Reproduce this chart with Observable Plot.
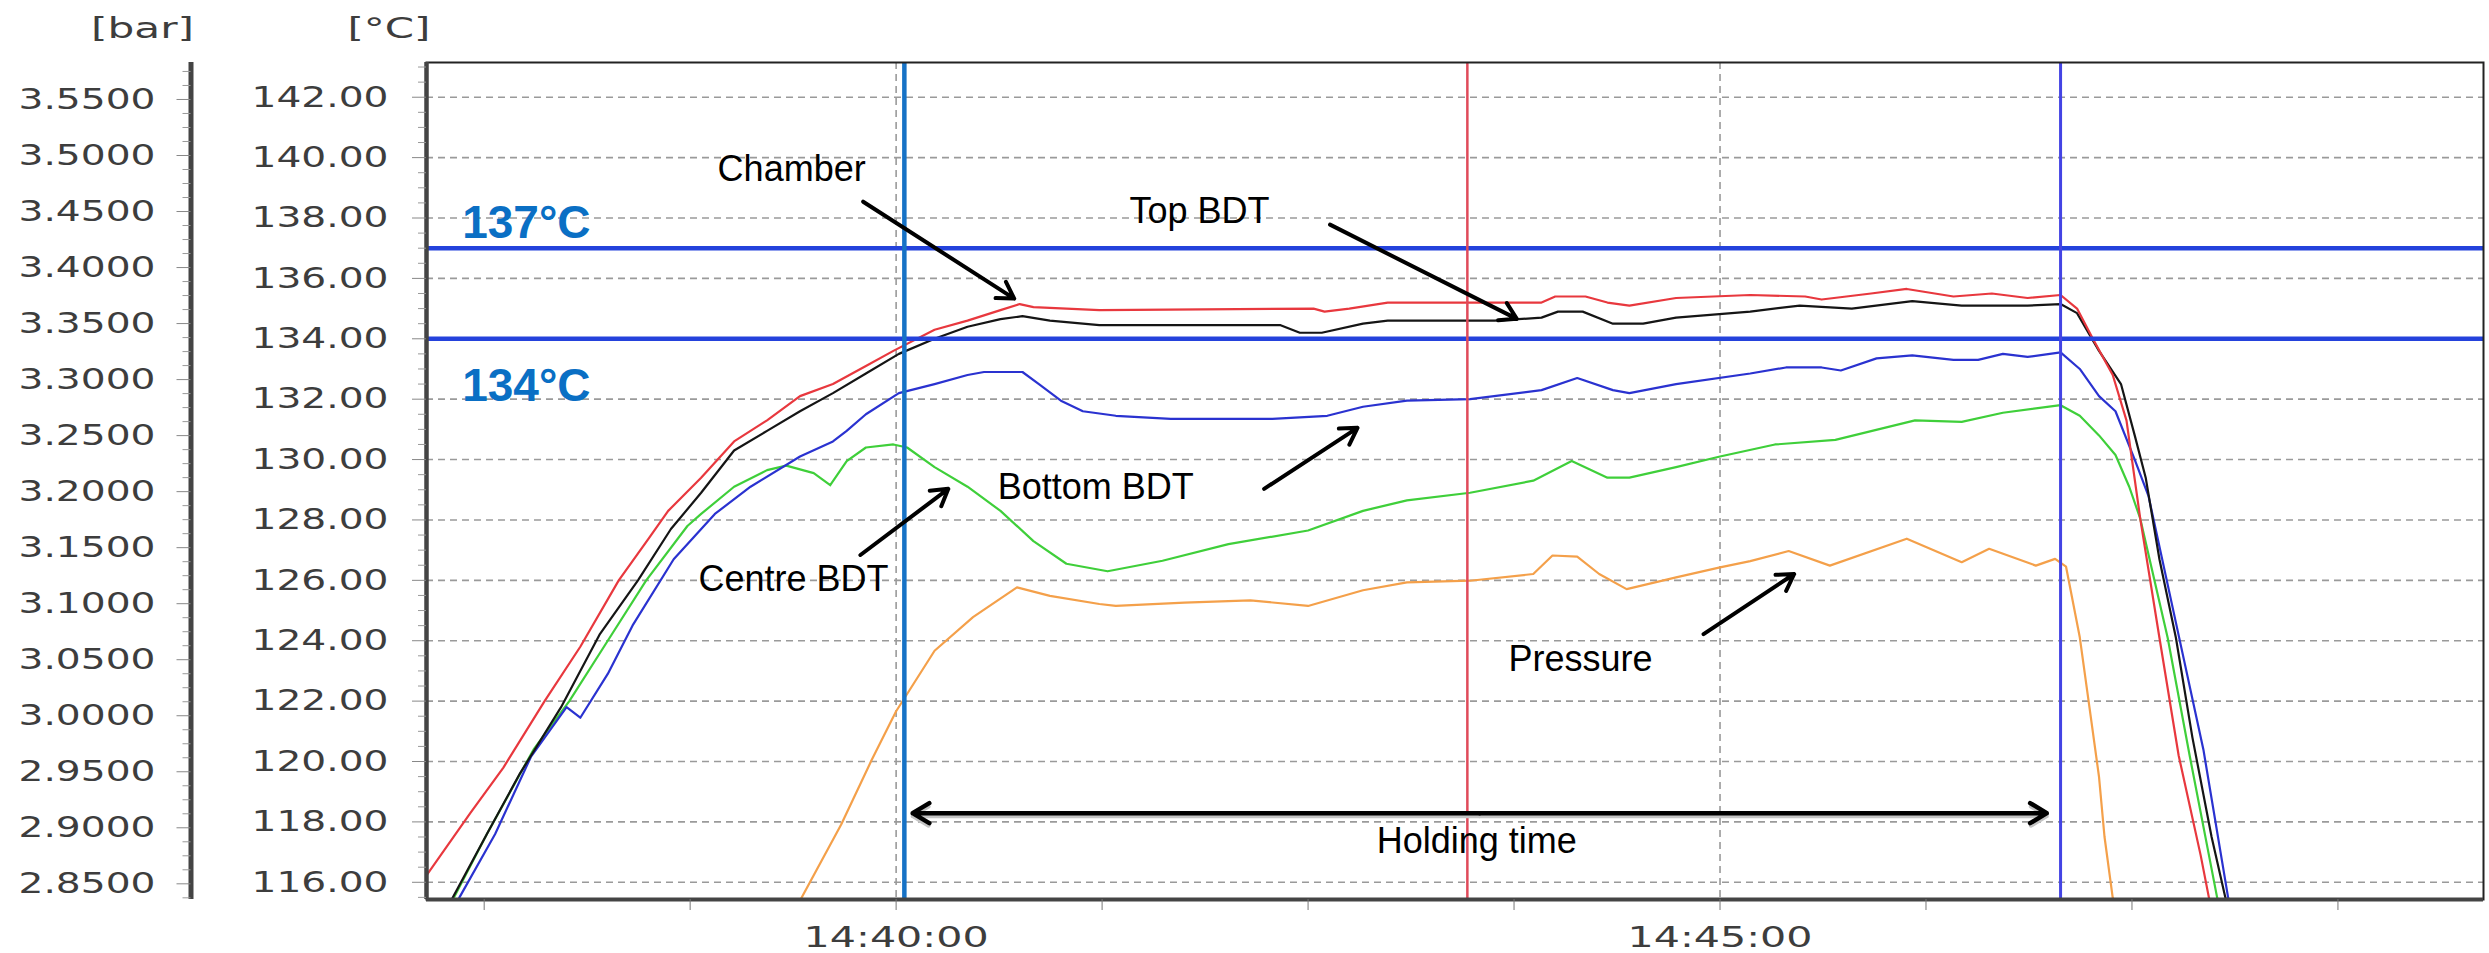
<!DOCTYPE html>
<html>
<head>
<meta charset="utf-8">
<script src="https://cdn.jsdelivr.net/npm/d3@7"></script>
<script src="https://cdn.jsdelivr.net/npm/@observablehq/plot@0.6"></script>
<style>
  html, body { margin: 0; padding: 0; background: #fff; }
</style>
</head>
<body>
<div id="chart"></div>
<script>
// ---------------- data ----------------
// [time, °C]
const chamber = [["14:37:08",116.1],["14:37:25",118.3],["14:37:37",119.8],["14:37:52",122.0],["14:38:05",123.8],["14:38:19",126.0],["14:38:30",127.4],["14:38:37",128.3],["14:38:49",129.4],["14:39:01",130.6],["14:39:13",131.3],["14:39:25",132.1],["14:39:37",132.5],["14:39:49",133.1],["14:39:59",133.6],["14:40:14",134.3],["14:40:26",134.6],["14:40:38",134.95],["14:40:45",135.15],["14:40:50",135.05],["14:41:14",134.95],["14:42:32",135.0],["14:42:36",134.9],["14:42:45",135.0],["14:42:59",135.2],["14:43:55",135.2],["14:44:00",135.4],["14:44:11",135.4],["14:44:19",135.2],["14:44:27",135.1],["14:44:44",135.35],["14:45:11",135.45],["14:45:31",135.4],["14:45:37",135.3],["14:45:55",135.5],["14:46:08",135.65],["14:46:25",135.4],["14:46:39",135.5],["14:46:52",135.35],["14:47:04",135.45],["14:47:10",135.0],["14:47:16",133.96],["14:47:23",132.8],["14:47:28",131.3],["14:47:33",128.05],["14:47:40",124.1],["14:47:47",120.2],["14:47:55",116.9],["14:47:58",115.5],["14:48:00",114.8]];

const topBDT = [["14:37:14",114.8],["14:37:18",115.4],["14:37:31",117.6],["14:37:43",119.6],["14:37:58",121.8],["14:38:12",124.2],["14:38:26",126.0],["14:38:38",127.7],["14:38:49",128.9],["14:39:01",130.3],["14:39:13",130.95],["14:39:25",131.6],["14:39:37",132.2],["14:39:49",132.85],["14:40:01",133.5],["14:40:14",134.0],["14:40:26",134.4],["14:40:38",134.65],["14:40:46",134.75],["14:40:56",134.6],["14:41:14",134.45],["14:42:20",134.45],["14:42:27",134.2],["14:42:35",134.2],["14:42:50",134.5],["14:42:59",134.6],["14:43:38",134.6],["14:43:55",134.7],["14:44:01",134.9],["14:44:10",134.9],["14:44:21",134.5],["14:44:32",134.5],["14:44:44",134.7],["14:45:11",134.9],["14:45:29",135.1],["14:45:48",135.0],["14:46:10",135.25],["14:46:28",135.1],["14:46:52",135.1],["14:47:04",135.15],["14:47:10",134.85],["14:47:18",133.6],["14:47:26",132.5],["14:47:31",130.8],["14:47:35",129.4],["14:47:40",126.7],["14:47:46",124.1],["14:47:52",120.8],["14:47:59",117.5],["14:48:04",115.5],["14:48:06",114.8]];

const bottomBDT = [["14:37:17",114.8],["14:37:21",115.5],["14:37:34",117.6],["14:37:47",120.15],["14:38:00",121.8],["14:38:05",121.45],["14:38:15",122.9],["14:38:24",124.5],["14:38:39",126.7],["14:38:54",128.2],["14:39:07",129.1],["14:39:25",130.1],["14:39:37",130.6],["14:39:42",130.95],["14:39:49",131.5],["14:40:01",132.2],["14:40:14",132.5],["14:40:26",132.8],["14:40:32",132.9],["14:40:46",132.9],["14:40:52",132.5],["14:41:00",131.95],["14:41:08",131.6],["14:41:20",131.45],["14:41:40",131.35],["14:42:17",131.35],["14:42:37",131.45],["14:42:50",131.75],["14:43:06",131.95],["14:43:29",132.0],["14:43:55",132.3],["14:44:08",132.7],["14:44:21",132.3],["14:44:27",132.2],["14:44:44",132.5],["14:45:11",132.85],["14:45:24",133.05],["14:45:37",133.05],["14:45:44",132.95],["14:45:57",133.35],["14:46:10",133.45],["14:46:25",133.3],["14:46:34",133.3],["14:46:43",133.5],["14:46:52",133.4],["14:47:04",133.55],["14:47:11",133.0],["14:47:18",132.1],["14:47:24",131.6],["14:47:31",130.0],["14:47:36",128.8],["14:47:46",124.6],["14:47:56",120.4],["14:48:05",115.5],["14:48:07",114.8]];

const centreBDT = [["14:37:14",114.8],["14:37:19",115.5],["14:37:31",117.6],["14:37:48",120.4],["14:38:01",122.0],["14:38:15",124.0],["14:38:29",126.0],["14:38:44",127.8],["14:38:49",128.2],["14:39:01",129.1],["14:39:13",129.65],["14:39:20",129.8],["14:39:30",129.55],["14:39:36",129.15],["14:39:42",129.95],["14:39:49",130.4],["14:39:59",130.5],["14:40:04",130.4],["14:40:14",129.75],["14:40:26",129.1],["14:40:38",128.3],["14:40:50",127.3],["14:41:02",126.55],["14:41:17",126.3],["14:41:37",126.65],["14:42:01",127.2],["14:42:30",127.65],["14:42:50",128.3],["14:43:06",128.65],["14:43:29",128.9],["14:43:52",129.3],["14:44:06",129.95],["14:44:19",129.4],["14:44:27",129.4],["14:44:44",129.75],["14:45:00",130.1],["14:45:20",130.5],["14:45:42",130.65],["14:46:11",131.3],["14:46:28",131.25],["14:46:43",131.55],["14:47:04",131.8],["14:47:11",131.45],["14:47:18",130.8],["14:47:24",130.15],["14:47:29",129.1],["14:47:33",128.05],["14:47:43",124.1],["14:47:51",120.2],["14:48:01",115.5],["14:48:03",114.8]];

// [time, bar]
const pressure = [["14:39:23",2.82],["14:39:25",2.835],["14:39:40",2.903],["14:39:51",2.96],["14:40:00",3.004],["14:40:14",3.058],["14:40:28",3.088],["14:40:44",3.1146],["14:40:56",3.107],["14:41:14",3.0997],["14:41:20",3.098],["14:41:45",3.101],["14:42:09",3.103],["14:42:30",3.098],["14:42:50",3.112],["14:43:06",3.119],["14:43:29",3.1205],["14:43:52",3.1265],["14:43:59",3.143],["14:44:08",3.142],["14:44:16",3.1265],["14:44:26",3.113],["14:44:44",3.1235],["14:45:00",3.1324],["14:45:11",3.138],["14:45:25",3.147],["14:45:40",3.134],["14:46:08",3.158],["14:46:28",3.137],["14:46:38",3.149],["14:46:55",3.134],["14:47:02",3.140],["14:47:06",3.133],["14:47:11",3.070],["14:47:15",2.999],["14:47:18",2.9455],["14:47:20",2.892],["14:47:23",2.8375],["14:47:25",2.82]];

// axes
const timeDomain = ["14:37:09", "14:49:38"];
const tempDomain = [115.43, 143.15];
const pressureDomain = [2.836, 3.583];
const tempTicks = [116, 118, 120, 122, 124, 126, 128, 130, 132, 134, 136, 138, 140, 142];
const pressureTicks = [2.85, 2.90, 2.95, 3.00, 3.05, 3.10, 3.15, 3.20, 3.25, 3.30, 3.35, 3.40, 3.45, 3.50, 3.55];
const timeTicks = ["14:37:30","14:38:45","14:40:00","14:41:15","14:42:30","14:43:45","14:45:00","14:46:15","14:47:30","14:48:45"];
const timeLabels = ["14:40:00", "14:45:00"];

// reference lines
const limitTemps = [137, 134];
const holdStart = "14:40:03";
const cursorTime = "14:43:28";
const holdEnd = "14:47:04";

// annotations
const limitNotes = [
  {time: "14:37:22", temp: 137.35, label: "137°C"},
  {time: "14:37:22", temp: 131.95, label: "134°C"}
];
const notes = [
  {time: "14:38:55", temp: 139.24, label: "Chamber"},
  {time: "14:41:25", temp: 137.85, label: "Top BDT"},
  {time: "14:40:37", temp: 128.70, label: "Bottom BDT"},
  {time: "14:38:48", temp: 125.65, label: "Centre BDT"},
  {time: "14:43:43", temp: 123.00, label: "Pressure"},
  {time: "14:42:55", temp: 116.97, label: "Holding time"}
];
const pointers = [
  {t1: "14:39:48", v1: 138.54, t2: "14:40:43", v2: 135.33},
  {t1: "14:42:38", v1: 137.78, t2: "14:43:46", v2: 134.66},
  {t1: "14:42:14", v1: 129.03, t2: "14:42:48", v2: 131.05},
  {t1: "14:39:47", v1: 126.84, t2: "14:40:19", v2: 129.03},
  {t1: "14:44:54", v1: 124.22, t2: "14:45:27", v2: 126.21}
];
const holding = {from: "14:40:06", to: "14:46:59", temp: 118.29};

// ---------------- drawing ----------------
const parseT = s => { const [h, m, sec] = s.split(":").map(Number); return new Date(Date.UTC(2000, 0, 1, h, m, sec)); };
const p2t = d3.scaleLinear(pressureDomain, tempDomain); // secondary (bar) axis → °C units
const x0 = parseT(timeDomain[0]);

const rows = (arr, name) => arr.map(([t, v]) => ({t: parseT(t), v, name}));
const pressureRows = pressure.map(([t, p]) => ({t: parseT(t), v: p2t(p)}));

const tempMinor = [];
for (let v = 115.5; v <= 143.01; v += 0.5) if (!tempTicks.includes(v)) tempMinor.push(v);
const pressureMinor = [];
for (let i = 0; i <= 59; i++) { const p = 2.8375 + i * 0.0125; if (i % 4 !== 1) pressureMinor.push(p); }

const mid = new Date((parseT(holding.from).getTime() + parseT(holding.to).getTime()) / 2);
const holdArrows = [
  {x1: mid, x2: parseT(holding.from), y: holding.temp},
  {x1: mid, x2: parseT(holding.to), y: holding.temp}
];

const grid = {stroke: "#9a9a9a", strokeOpacity: 1, strokeWidth: 1.6, strokeDasharray: "7,5"};
const PAX = -235.5;

const svg = Plot.plot({
  width: 2489,
  height: 953,
  marginLeft: 426,
  marginRight: 6,
  marginTop: 62,
  marginBottom: 54,
  style: {fontFamily: "DejaVu Sans", fontSize: "29px", color: "#3d3d3d", background: "white", overflow: "visible"},
  x: {type: "utc", domain: timeDomain.map(parseT), label: null},
  y: {domain: tempDomain, label: null},
  marks: [
    Plot.gridY(tempTicks, grid),
    Plot.gridX(timeLabels.map(parseT), grid),

    Plot.line(pressureRows, {x: "t", y: "v", stroke: "#f4a04a", strokeWidth: 2.2, clip: true}),
    Plot.line(rows(centreBDT), {x: "t", y: "v", stroke: "#3fcf3a", strokeWidth: 2.2, clip: true}),
    Plot.line(rows(bottomBDT), {x: "t", y: "v", stroke: "#2a32d0", strokeWidth: 2.2, clip: true}),
    Plot.line(rows(topBDT), {x: "t", y: "v", stroke: "#151515", strokeWidth: 2.2, clip: true}),
    Plot.line(rows(chamber), {x: "t", y: "v", stroke: "#e8383e", strokeWidth: 2.2, clip: true}),

    Plot.ruleY(limitTemps, {stroke: "#2442dc", strokeWidth: 4.5}),
    Plot.ruleX([parseT(holdStart)], {stroke: "#1672c6", strokeWidth: 4.5}),
    Plot.ruleX([parseT(cursorTime)], {stroke: "#e04a5a", strokeWidth: 2.5}),
    Plot.ruleX([parseT(holdEnd)], {stroke: "#4444e4", strokeWidth: 3}),

    Plot.frame({stroke: "#222", strokeWidth: 2}),
    Plot.ruleX([x0], {stroke: "#444", strokeWidth: 4.5}),
    Plot.ruleY([tempDomain[0]], {stroke: "#444", strokeWidth: 4}),
    Plot.ruleX([x0], {dx: PAX, stroke: "#444", strokeWidth: 5}),

    Plot.axisY(tempTicks, {tickSize: 14, tickPadding: 24, stroke: "#888", tickFormat: d => d.toFixed(2)}),
    Plot.axisY(tempMinor, {tickSize: 8, fill: "none", stroke: "#999"}),
    Plot.axisY(pressureTicks.map(p2t), {dx: PAX, tickSize: 14, tickPadding: 21.5, stroke: "#888", tickFormat: t => p2t.invert(t).toFixed(4)}),
    Plot.axisY(pressureMinor.map(p2t), {dx: PAX, tickSize: 8, fill: "none", stroke: "#999"}),
    Plot.axisX(timeTicks.map(parseT), {tickSize: 11, fill: "none", stroke: "#777"}),
    Plot.axisX(timeLabels.map(parseT), {tickSize: 0, tickPadding: 27, tickFormat: d3.utcFormat("%H:%M:%S")}),

    Plot.text(["[°C]"], {frameAnchor: "top-left", dx: 4, dy: -25, textAnchor: "end", lineAnchor: "bottom", fill: "#3d3d3d"}),
    Plot.text(["[bar]"], {frameAnchor: "top-left", dx: PAX + 3, dy: -25, textAnchor: "end", lineAnchor: "bottom", fill: "#3d3d3d"}),

    Plot.text(limitNotes, {x: d => parseT(d.time), y: "temp", text: "label", textAnchor: "start", lineAnchor: "bottom",
      fontFamily: "Liberation Sans, Arial, sans-serif", fontWeight: "bold", fontSize: 46, fill: "#0a6fc4"}),
    Plot.text(notes, {x: d => parseT(d.time), y: "temp", text: "label", textAnchor: "start", lineAnchor: "bottom",
      fontFamily: "Liberation Sans, Arial, sans-serif", fontSize: 36, fill: "#000"}),

    Plot.arrow(pointers, {x1: d => parseT(d.t1), y1: "v1", x2: d => parseT(d.t2), y2: "v2",
      stroke: "#000", strokeWidth: 4, headLength: 7, headAngle: 62}),
    Plot.arrow(holdArrows, {x1: "x1", x2: "x2", y1: "y", y2: "y", dy: 3,
      stroke: "#c4c4c4", strokeWidth: 4, headLength: 7, headAngle: 62}),
    Plot.arrow(holdArrows, {x1: "x1", x2: "x2", y1: "y", y2: "y",
      stroke: "#000", strokeWidth: 4.5, headLength: 6.5, headAngle: 62})
  ]
});

document.getElementById("chart").appendChild(svg);

// Widen the bitmap-style axis lettering as in the reference
const sel = d3.select(svg);
sel.selectAll('g[aria-label="y-axis tick label"] text').attr("textLength", 137).attr("lengthAdjust", "spacingAndGlyphs");
sel.selectAll('g[aria-label="x-axis tick label"] text').attr("textLength", 185).attr("lengthAdjust", "spacingAndGlyphs");
const unitLen = {"[bar]": 103, "[°C]": 83};
sel.selectAll("text").each(function () {
  const s = this.textContent;
  if (unitLen[s]) { this.setAttribute("textLength", unitLen[s]); this.setAttribute("lengthAdjust", "spacingAndGlyphs"); }
});
</script>
</body>
</html>
